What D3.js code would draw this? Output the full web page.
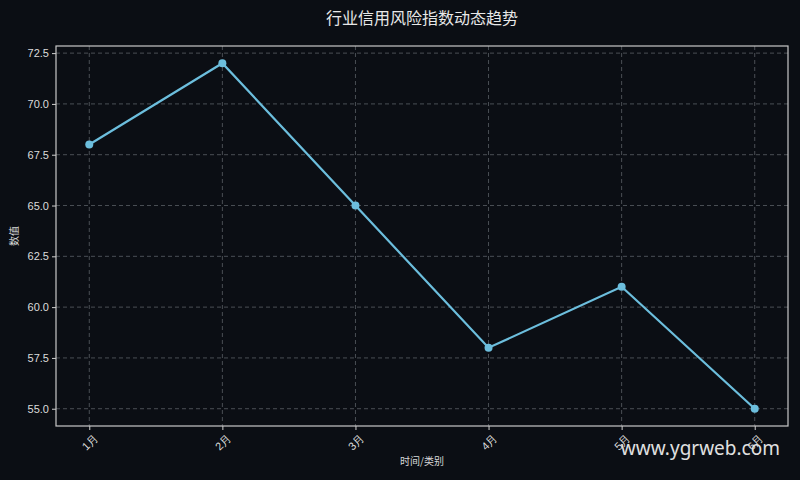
<!DOCTYPE html>
<html>
<head>
<meta charset="utf-8">
<script src="https://cdn.jsdelivr.net/npm/d3@7"></script>
<style>
  body { margin: 0; background: #0b0e14; }
  svg { display: block; font-family: "Noto Sans CJK SC", "DejaVu Sans", sans-serif; }
</style>
</head>
<body>
<div id="chart"></div>
<script>
// chart data
const months = ["1月", "2月", "3月", "4月", "5月", "6月"];
const values = [68, 72, 65, 58, 61, 55];
const yTicks = [55.0, 57.5, 60.0, 62.5, 65.0, 67.5, 70.0, 72.5];

const width = 800, height = 480;
const margin = { top: 46, right: 12, bottom: 54, left: 56 };
const innerW = width - margin.left - margin.right;
const innerH = height - margin.top - margin.bottom;

const svg = d3.select("#chart").append("svg")
    .attr("width", width)
    .attr("height", height);

svg.append("rect").attr("width", width).attr("height", height).attr("fill", "#0b0e14");

const g = svg.append("g").attr("transform", `translate(${margin.left},${margin.top})`);

// 5% margin on each side, like matplotlib
const n = months.length - 1;
const pad = innerW / 1.1 * 0.05;
const x = d3.scalePoint().domain(months).range([pad, innerW - pad]);

const yMin = d3.min(values), yMax = d3.max(values);
const yr = yMax - yMin;
const y = d3.scaleLinear()
    .domain([yMin - yr * 0.05, yMax + yr * 0.05])
    .range([innerH, 0]);

// grid
g.append("g").selectAll("line").data(yTicks).join("line")
    .attr("x1", 0).attr("x2", innerW)
    .attr("y1", d => y(d)).attr("y2", d => y(d))
    .attr("stroke", "#5a5f66").attr("stroke-width", 0.8).attr("stroke-dasharray", "4,3");
g.append("g").selectAll("line").data(months).join("line")
    .attr("y1", 0).attr("y2", innerH)
    .attr("x1", d => x(d)).attr("x2", d => x(d))
    .attr("stroke", "#5a5f66").attr("stroke-width", 0.8).attr("stroke-dasharray", "4,3");

// axes
const yAxis = g.append("g")
    .call(d3.axisLeft(y).tickValues(yTicks).tickFormat(d3.format(".1f")).tickSize(4).tickPadding(3));
const xAxis = g.append("g")
    .attr("transform", `translate(0,${innerH})`)
    .call(d3.axisBottom(x).tickSize(4).tickPadding(3));

[yAxis, xAxis].forEach(a => {
  a.select(".domain").remove();
  a.selectAll(".tick line").attr("stroke", "#d0d0d0");
  a.selectAll(".tick text").attr("fill", "#dcdcdc").attr("font-size", 11);
});

xAxis.selectAll(".tick text")
    .attr("text-anchor", "end")
    .attr("dy", null)
    .attr("transform", "translate(4,8) rotate(-45)");

// frame
g.append("rect").attr("width", innerW).attr("height", innerH)
    .attr("fill", "none").attr("stroke", "#c8c8c8").attr("stroke-width", 1.2);

// line + markers
const line = d3.line().x((d, i) => x(months[i])).y(d => y(d));
g.append("path").datum(values)
    .attr("d", line)
    .attr("fill", "none")
    .attr("stroke", "#6cbedd")
    .attr("stroke-width", 2.2);
g.selectAll("circle.pt").data(values).join("circle")
    .attr("class", "pt")
    .attr("cx", (d, i) => x(months[i]))
    .attr("cy", d => y(d))
    .attr("r", 4)
    .attr("fill", "#6cbedd");

// titles
svg.append("text")
    .attr("x", margin.left + innerW / 2).attr("y", 24)
    .attr("text-anchor", "middle")
    .attr("fill", "#e8e8e8").attr("font-size", 16)
    .text("行业信用风险指数动态趋势");
svg.append("text")
    .attr("x", margin.left + innerW / 2).attr("y", 465)
    .attr("text-anchor", "middle")
    .attr("fill", "#d8d8d8").attr("font-size", 10)
    .text("时间/类别");
svg.append("text")
    .attr("transform", `translate(18,${margin.top + innerH / 2}) rotate(-90)`)
    .attr("text-anchor", "middle")
    .attr("fill", "#d8d8d8").attr("font-size", 10)
    .text("数值");

// watermark
svg.append("text")
    .attr("x", 780).attr("y", 455)
    .attr("text-anchor", "end")
    .attr("fill", "#e0e0e0").attr("font-size", 19)
    .attr("font-family", "\"Noto Sans\", \"Open Sans\", sans-serif")
    .text("www.ygrweb.com");
</script>
</body>
</html>
